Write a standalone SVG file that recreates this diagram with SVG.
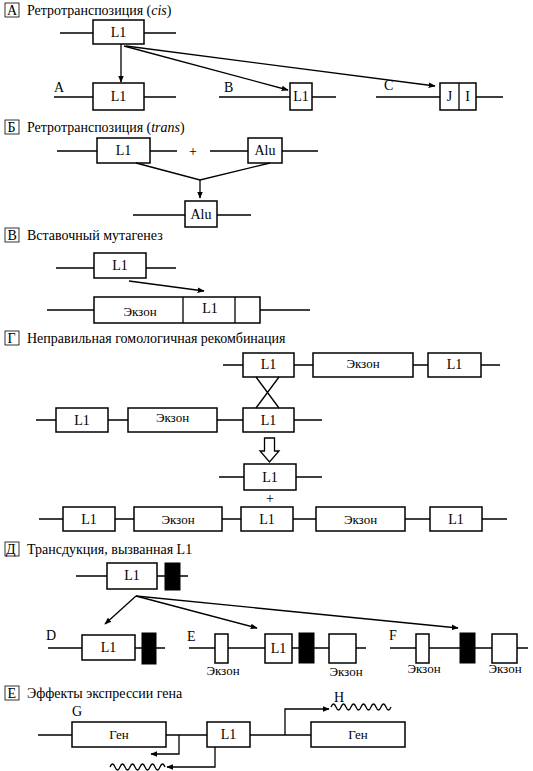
<svg xmlns="http://www.w3.org/2000/svg" width="533" height="771" viewBox="0 0 533 771" font-family="'Liberation Serif', 'Times New Roman', 'DejaVu Serif', serif">
<style>
text{font-family:'Liberation Serif','Times New Roman','DejaVu Serif',serif;fill:#000}
.t{font-size:14px}
.b{font-size:14px;text-anchor:middle}
.e{font-size:13px;text-anchor:middle}
.ln{stroke:#000;stroke-width:1.3;fill:none}
.bx{stroke:#000;stroke-width:1.5;fill:#fff}
.bk{stroke:#000;stroke-width:1;fill:#000}
.hb{stroke:#000;stroke-width:0.8;fill:#fff}
.ar{stroke:#000;stroke-width:1.3;fill:none;marker-end:url(#ah)}
</style>
<defs>
<marker id="ah" viewBox="0 0 10 10" refX="9" refY="5" markerWidth="7" markerHeight="7" markerUnits="userSpaceOnUse" orient="auto">
<path d="M0,1 L10,5 L0,9 z" fill="#000"/>
</marker>
</defs>
<rect width="533" height="771" fill="#fff"/>

<!-- Headings -->
<g id="headA"><rect class="hb" x="5" y="3" width="14" height="14"/><text class="t" x="7" y="15">А</text><text class="t" x="27" y="15">Ретротранспозиция (<tspan font-style="italic">cis</tspan>)</text></g>
<g id="headB"><rect class="hb" x="5" y="120" width="14" height="14"/><text class="t" x="7.5" y="132">Б</text><text class="t" x="27" y="132">Ретротранспозиция (<tspan font-style="italic">trans</tspan>)</text></g>
<g id="headV"><rect class="hb" x="5" y="228" width="14" height="14"/><text class="t" x="7.5" y="240">В</text><text class="t" x="27" y="240">Вставочный мутагенез</text></g>
<g id="headG"><rect class="hb" x="5" y="331" width="14" height="14"/><text class="t" x="7.5" y="343">Г</text><text class="t" x="27" y="343">Неправильная гомологичная рекомбинация</text></g>
<g id="headD"><rect class="hb" x="5" y="542" width="14" height="14"/><text class="t" x="6" y="554">Д</text><text class="t" x="27" y="554">Трансдукция, вызванная L1</text></g>
<g id="headE"><rect class="hb" x="5" y="686" width="14" height="14"/><text class="t" x="7.5" y="698">Е</text><text class="t" x="27" y="698">Эффекты экспрессии гена</text></g>

<!-- Section A -->
<g id="a-src"><path class="ln" d="M60,33H93M144,33H176"/><rect class="bx" x="93" y="20" width="51" height="24"/><text class="b" x="118.5" y="37">L1</text></g>
<g id="a-A"><text class="t" x="54" y="92">A</text><path class="ln" d="M54,97H93M144,97H176"/><rect class="bx" x="93" y="83" width="51" height="27"/><text class="b" x="118.5" y="101">L1</text></g>
<g id="a-B"><text class="t" x="224" y="92">B</text><path class="ln" d="M219,97H290M312,97H336"/><rect class="bx" x="290" y="83" width="22" height="27"/><text class="b" x="301" y="101">L1</text></g>
<g id="a-C"><text class="t" x="384" y="90">C</text><path class="ln" d="M376,97H440M476,97H503"/><rect class="bx" x="440" y="83" width="36" height="27"/><line class="ln" x1="459" y1="83" x2="459" y2="110" stroke-width="1.5"/><text class="b" x="449.5" y="101">J</text><text class="b" x="467.5" y="101">I</text></g>

<!-- Section Б -->
<g id="b-L1"><path class="ln" d="M57,151H97M150,151H177"/><rect class="bx" x="97" y="138" width="53" height="25"/><text class="b" x="123.5" y="155">L1</text></g>
<g id="b-plus"><text class="b" x="193" y="156">+</text></g>
<g id="b-Alu"><path class="ln" d="M210,151H248M282,151H318"/><rect class="bx" x="248" y="138" width="34" height="25"/><text class="b" x="265" y="155">Alu</text></g>
<g id="b-res"><path class="ln" d="M133,215H185M217,215H251"/><rect class="bx" x="185" y="201" width="32" height="26"/><text class="b" x="201" y="219">Alu</text></g>

<!-- Section В -->
<g id="v-L1"><path class="ln" d="M56,268H94M146,268H176"/><rect class="bx" x="94" y="253" width="52" height="25"/><text class="b" x="120" y="270">L1</text></g>
<g id="v-ins"><path class="ln" d="M47,310H94M260,310H310"/><rect class="bx" x="94" y="297" width="166" height="26"/><line class="ln" x1="183" y1="297" x2="183" y2="323" stroke-width="1.5"/><line class="ln" x1="235" y1="297" x2="235" y2="323" stroke-width="1.5"/><text class="e" x="140" y="316">Экзон</text><text class="b" x="210" y="313">L1</text></g>

<!-- Section Г -->
<g id="g-top"><path class="ln" d="M223,365H243M294,365H313M413,365H428M481,365H500"/><rect class="bx" x="243" y="353" width="51" height="24"/><text class="b" x="268.5" y="369">L1</text><rect class="bx" x="313" y="353" width="100" height="24"/><text class="e" x="363" y="368">Экзон</text><rect class="bx" x="428" y="353" width="53" height="24"/><text class="b" x="454.5" y="369">L1</text></g>
<g id="g-bot"><path class="ln" d="M36,420H56M108,420H128M217,420H243M294,420H322"/><rect class="bx" x="56" y="408" width="52" height="24"/><text class="b" x="82" y="425">L1</text><rect class="bx" x="128" y="408" width="89" height="24"/><text class="e" x="172.5" y="422">Экзон</text><rect class="bx" x="243" y="408" width="51" height="24"/><text class="b" x="268.5" y="425">L1</text></g>
<g id="g-mid"><path class="ln" d="M219,477H244M296,477H322"/><rect class="bx" x="244" y="464" width="52" height="26"/><text class="b" x="270" y="482">L1</text><text class="b" x="270" y="503">+</text></g>
<g id="g-res"><path class="ln" d="M39,519H63M115,519H134M222,519H241M293,519H316M405,519H430M482,519H507"/><rect class="bx" x="63" y="507" width="52" height="24"/><text class="b" x="89" y="524">L1</text><rect class="bx" x="134" y="507" width="88" height="24"/><text class="e" x="178" y="524">Экзон</text><rect class="bx" x="241" y="507" width="52" height="24"/><text class="b" x="267" y="524">L1</text><rect class="bx" x="316" y="507" width="89" height="24"/><text class="e" x="360.5" y="524">Экзон</text><rect class="bx" x="430" y="507" width="52" height="24"/><text class="b" x="456" y="524">L1</text></g>

<!-- Section Д -->
<g id="d-src"><path class="ln" d="M76,576H107M157,576H165M180,576H188"/><rect class="bx" x="107" y="563" width="50" height="26"/><text class="b" x="132" y="580">L1</text><rect class="bk" x="165" y="563" width="15" height="27"/></g>
<g id="d-D"><text class="t" x="46" y="640">D</text><path class="ln" d="M48,648H82M135,648H142M156,648H165"/><rect class="bx" x="82" y="635" width="53" height="25"/><text class="b" x="108.5" y="652">L1</text><rect class="bk" x="142" y="633" width="14" height="31"/></g>
<g id="d-E"><text class="t" x="187" y="641">E</text><path class="ln" d="M189,648H215M228,648H265M292,648H299M314,648H329M356,648H366"/><rect class="bx" x="215" y="634" width="13" height="29"/><rect class="bx" x="265" y="634" width="27" height="29"/><text class="b" x="278.5" y="653">L1</text><rect class="bk" x="299" y="633" width="15" height="30"/><rect class="bx" x="329" y="634" width="27" height="29"/><text class="e" x="223" y="675">Экзон</text><text class="e" x="346" y="676">Экзон</text></g>
<g id="d-F"><text class="t" x="389" y="640">F</text><path class="ln" d="M390,648H416M429,648H460M475,648H492M517,648H528"/><rect class="bx" x="416" y="634" width="13" height="29"/><rect class="bk" x="460" y="633" width="15" height="30"/><rect class="bx" x="492" y="634" width="25" height="29"/><text class="e" x="424" y="673">Экзон</text><text class="e" x="505" y="673">Экзон</text></g>

<!-- Section Е -->
<g id="e-gen1"><text class="t" x="72" y="716">G</text><path class="ln" d="M38,735H72"/><rect class="bx" x="72" y="722" width="94" height="25"/><text class="e" x="119" y="739">Ген</text></g>
<g id="e-L1"><rect class="bx" x="207" y="722" width="43" height="25"/><text class="b" x="228.5" y="739">L1</text></g>
<g id="e-gen2"><rect class="bx" x="311" y="722" width="94" height="25"/><text class="e" x="358" y="739">Ген</text></g>
<g id="e-H"><text class="t" x="334" y="702">H</text><path class="ln" d="M331,707q2.5,-6 5,0t5,0t5,0t5,0t5,0t5,0t5,0t5,0t5,0t5,0t5,0t5,0"/></g>
<g id="e-wave"><path class="ln" d="M110,767q2.5,-6 5,0t5,0t5,0t5,0t5,0t5,0t5,0t5,0t5,0t5,0t5,0"/></g>

<!-- Connectors -->
<g id="connectors">
<path class="ar" d="M121,44V82"/>
<path class="ar" d="M124,46L288,90"/>
<path class="ar" d="M126,46L435,86"/>
<path class="ln" d="M136,163L200,180L270,163"/>
<path class="ar" d="M200,180V198"/>
<path class="ar" d="M129,281L204,291"/>
<path class="ln" d="M256,377L279,408M279,377L256,408"/>
<path d="M264.5,438H274.5V451H279L269.5,462L260,451H264.5Z" fill="#fff" stroke="#000" stroke-width="1.3"/>
<path class="ar" d="M136,596L105,624"/>
<path class="ar" d="M136,596L257,628"/>
<path class="ar" d="M136,596L458,628"/>
<path class="ln" d="M166,735H207M250,735H311"/>
<path class="ar" d="M179,735V754H151"/>
<path class="ar" d="M215,747V767H167"/>
<path class="ar" d="M285,735V709H329"/>
</g>
</svg>
